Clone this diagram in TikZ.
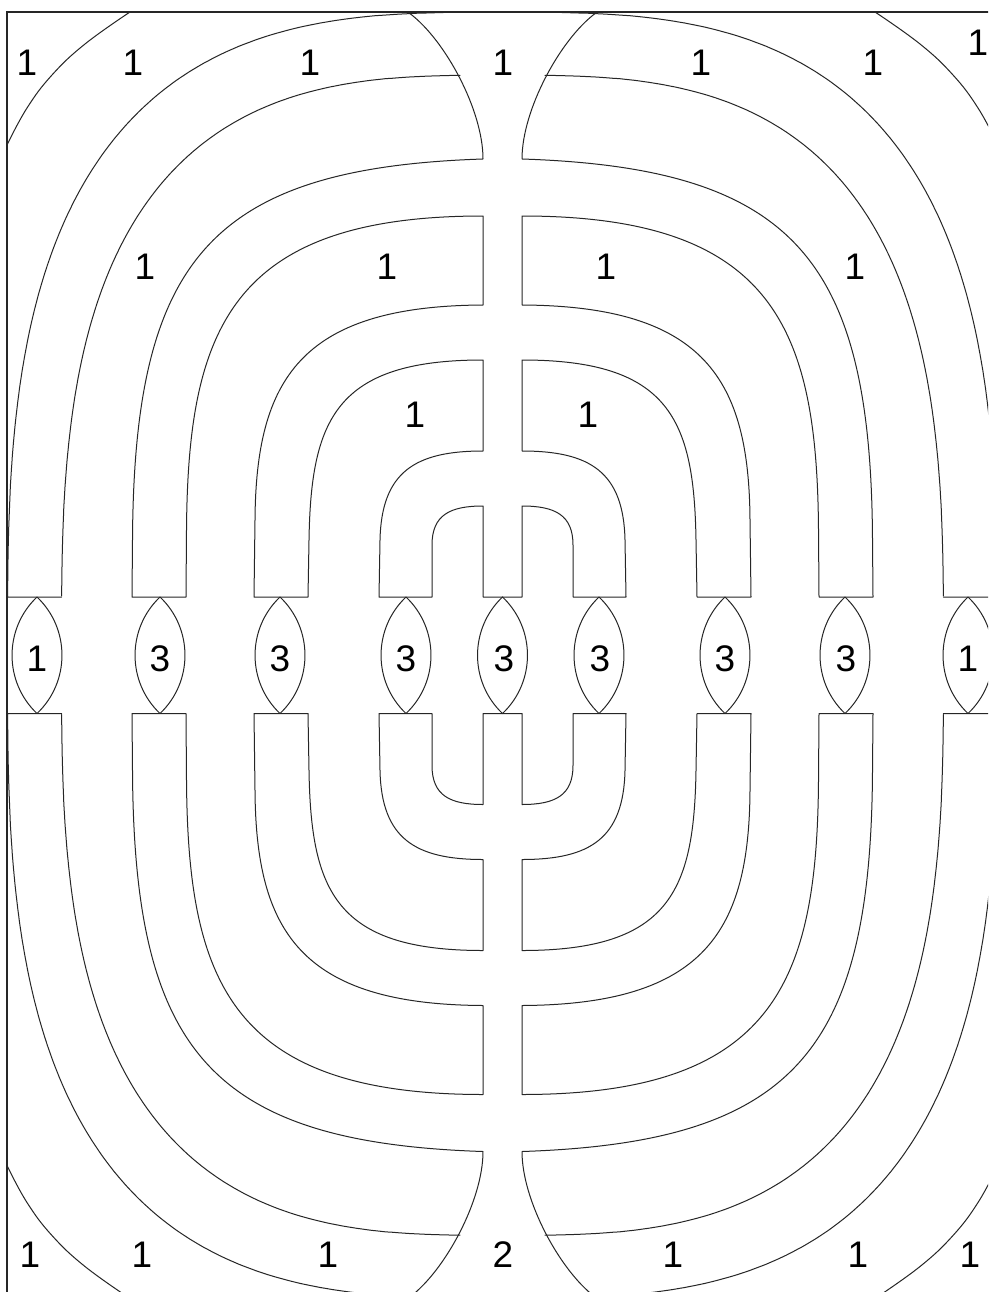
\documentclass[tikz,border=0pt]{standalone}
\usepackage{fontspec}
\setmainfont{Liberation Sans}
\newcommand{\quadpart}{%
  % corner arc
  \draw[ln] plot[smooth,tension=0.7] coordinates {(7,145) (27,108) (52,75) (85,44) (130,12)};
  % outer strip: inner edge and outer edge
  \draw[ln] plot[domain=1.824:88.285,samples=160,variable=\t]
     ({502.5-441*pow(cos(\t),2/3)},{655.25-580*pow(sin(\t),2/3)});
  \draw[ln] (61.65,597) -- (7.6,597)
     -- plot[domain=1.5627:89.9,samples=160,variable=\t]
     ({502.5-495*pow(cos(\t),2/3)},{655.25-643*pow(sin(\t),2/3)})
     -- (502.5,12.25);
  % centre arc and nested strips
  \draw[ln] (410,13.6) .. controls (445,40) and (483,110) .. (483,159)
     .. controls (210,168) and (134,260) .. (132.5,540) -- (132,597)
     -- (186,597) -- (186.5,530) .. controls (188,330) and (230,216) .. (483,216)
     -- (483,305) .. controls (300,306) and (256,380) .. (255,520) -- (254,597)
     -- (308,597) -- (309,540) .. controls (311,420) and (335,360) .. (483,360)
     -- (483,451) .. controls (415,451) and (381.5,472) .. (380,540) -- (379,597)
     -- (432,597) -- (432,545) .. controls (432,515) and (450,506) .. (483,506)
     -- (483,597) -- (502.5,597);
}
\begin{document}
\begin{tikzpicture}[x=1pt,y=-1pt,
  ln/.style={line width=1pt, black!85, line cap=round, line join=round},
  brd/.style={line width=2.2pt, black!85, line join=miter},
  lbl/.style={font=\fontsize{37}{40}\selectfont, inner sep=0pt, text=black}]
\useasboundingbox (0,0) rectangle (988,1292);
\fill[white] (0,0) rectangle (988,1292);
\begin{scope}
  \clip (0,0) rectangle (988,1292);
  \quadpart
  \begin{scope}[shift={(1005,0)},xscale=-1] \quadpart \end{scope}
  \begin{scope}[shift={(0,1310.5)},yscale=-1] \quadpart \end{scope}
  \begin{scope}[shift={(1005,1310.5)},xscale=-1,yscale=-1] \quadpart \end{scope}
  % flames / lenses
  \foreach \cx in {37,160,280,406,502.5,599,725,845,968} {
    \draw[ln] (\cx,597) .. controls +(33.3,31.6) and +(33.3,-31.6) .. (\cx,713.5)
              .. controls +(-33.3,-31.6) and +(-33.3,31.6) .. (\cx,597);
  }
  % frame
  \draw[brd] (7,1320) -- (7,12) -- (1010,12);
\end{scope}
% labels
\node[lbl] (t1) at (27,63) {1};
\node[lbl] (t2) at (133,63) {1};
\node[lbl] (t3) at (310,63) {1};
\node[lbl] (t4) at (503,63) {1};
\node[lbl] (t5) at (701,63) {1};
\node[lbl] (t6) at (873,63) {1};
\node[lbl] (t7) at (978,43) {1};
\node[lbl] (s1) at (145,267) {1};
\node[lbl] (s2) at (387,267) {1};
\node[lbl] (s3) at (606,267) {1};
\node[lbl] (s4) at (855,267) {1};
\node[lbl] (r1) at (415,414.5) {1};
\node[lbl] (r2) at (588,414.5) {1};
\node[lbl] (f1) at (37,659) {1};
\node[lbl] (f2) at (160,659) {3};
\node[lbl] (f3) at (280,659) {3};
\node[lbl] (f4) at (406,659) {3};
\node[lbl] (f5) at (504,659) {3};
\node[lbl] (f6) at (600,659) {3};
\node[lbl] (f7) at (725,659) {3};
\node[lbl] (f8) at (846,659) {3};
\node[lbl] (f9) at (968,659) {1};
\node[lbl] (b1) at (30,1255) {1};
\node[lbl] (b2) at (142,1255) {1};
\node[lbl] (b3) at (328,1255) {1};
\node[lbl] (b4) at (503,1255) {2};
\node[lbl] (b5) at (673,1255) {1};
\node[lbl] (b6) at (858,1255) {1};
\node[lbl] (b7) at (970,1255) {1};
\end{tikzpicture}
\end{document}
